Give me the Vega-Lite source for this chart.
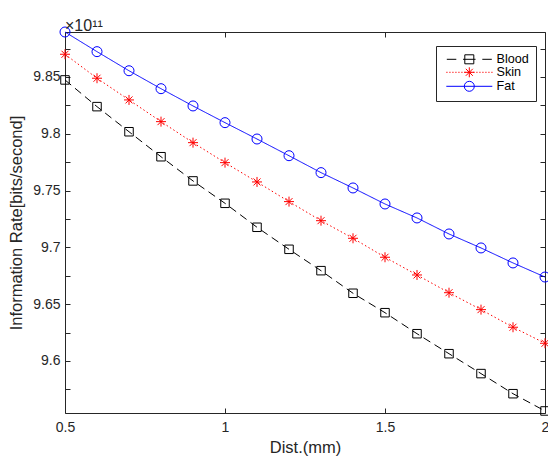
{
  "$schema": "https://vega.github.io/schema/vega-lite/v6.json",
  "width": 480,
  "height": 381,
  "autosize": {"type": "none"},
  "padding": {"left": 65, "top": 32, "right": 3, "bottom": 45},
  "background": "white",
  "title": {"text": "×10¹¹", "anchor": "start", "frame": "group", "offset": 2, "fontSize": 16, "fontWeight": "normal", "color": "#262626", "font": "Liberation Sans", "dy": 11},
  "config": {
    "view": {"stroke": null},
    "font": "Liberation Sans",
    "axis": {"grid": false, "domainColor": "#262626", "tickColor": "#262626", "labelColor": "#262626", "titleColor": "#262626", "labelFont": "Liberation Sans", "titleFont": "Liberation Sans", "labelFontSize": 14, "titleFontSize": 16.5, "titleFontWeight": "normal", "tickSize": -5, "domainWidth": 1, "tickWidth": 1}
  },
  "data": {"values": [
    {"x": 0.5, "series": "Blood", "y": 9.8474}, {"x": 0.6, "series": "Blood", "y": 9.8239}, {"x": 0.7, "series": "Blood", "y": 9.8018}, {"x": 0.8, "series": "Blood", "y": 9.7798},
    {"x": 0.9, "series": "Blood", "y": 9.7585}, {"x": 1.0, "series": "Blood", "y": 9.7388}, {"x": 1.1, "series": "Blood", "y": 9.7177}, {"x": 1.2, "series": "Blood", "y": 9.6983},
    {"x": 1.3, "series": "Blood", "y": 9.6795}, {"x": 1.4, "series": "Blood", "y": 9.6596}, {"x": 1.5, "series": "Blood", "y": 9.6425}, {"x": 1.6, "series": "Blood", "y": 9.6240},
    {"x": 1.7, "series": "Blood", "y": 9.6064}, {"x": 1.8, "series": "Blood", "y": 9.5889}, {"x": 1.9, "series": "Blood", "y": 9.5712}, {"x": 2.0, "series": "Blood", "y": 9.5560},
    {"x": 0.5, "series": "Skin", "y": 9.8700}, {"x": 0.6, "series": "Skin", "y": 9.8489}, {"x": 0.7, "series": "Skin", "y": 9.8298}, {"x": 0.8, "series": "Skin", "y": 9.8107},
    {"x": 0.9, "series": "Skin", "y": 9.7922}, {"x": 1.0, "series": "Skin", "y": 9.7746}, {"x": 1.1, "series": "Skin", "y": 9.7576}, {"x": 1.2, "series": "Skin", "y": 9.7403},
    {"x": 1.3, "series": "Skin", "y": 9.7235}, {"x": 1.4, "series": "Skin", "y": 9.7080}, {"x": 1.5, "series": "Skin", "y": 9.6913}, {"x": 1.6, "series": "Skin", "y": 9.6757},
    {"x": 1.7, "series": "Skin", "y": 9.6601}, {"x": 1.8, "series": "Skin", "y": 9.6452}, {"x": 1.9, "series": "Skin", "y": 9.6297}, {"x": 2.0, "series": "Skin", "y": 9.6156},
    {"x": 0.5, "series": "Fat", "y": 9.8896}, {"x": 0.6, "series": "Fat", "y": 9.8723}, {"x": 0.7, "series": "Fat", "y": 9.8555}, {"x": 0.8, "series": "Fat", "y": 9.8397},
    {"x": 0.9, "series": "Fat", "y": 9.8245}, {"x": 1.0, "series": "Fat", "y": 9.8098}, {"x": 1.1, "series": "Fat", "y": 9.7954}, {"x": 1.2, "series": "Fat", "y": 9.7807},
    {"x": 1.3, "series": "Fat", "y": 9.7658}, {"x": 1.4, "series": "Fat", "y": 9.7523}, {"x": 1.5, "series": "Fat", "y": 9.7382}, {"x": 1.6, "series": "Fat", "y": 9.7259},
    {"x": 1.7, "series": "Fat", "y": 9.7118}, {"x": 1.8, "series": "Fat", "y": 9.6995}, {"x": 1.9, "series": "Fat", "y": 9.6863}, {"x": 2.0, "series": "Fat", "y": 9.6739}
  ]},
  "resolve": {
    "scale": {"color": "independent", "shape": "independent", "strokeDash": "independent"},
    "axis": {"x": "independent", "y": "independent"}
  },
  "layer": [
    {
      "mark": {"type": "line", "strokeWidth": 1},
      "encoding": {
        "x": {"field": "x", "type": "quantitative", "scale": {"domain": [0.5, 2], "nice": false, "zero": false},
              "axis": {"orient": "bottom", "values": [0.5, 1, 1.5, 2], "format": ".1~f", "labelFlush": false, "labelPadding": 12, "title": "Dist.(mm)", "titlePadding": 5}},
        "y": {"field": "y", "type": "quantitative", "scale": {"domain": [9.5542, 9.8896], "nice": false, "zero": false},
              "axis": {"orient": "left", "values": [9.575, 9.6, 9.625, 9.65, 9.675, 9.7, 9.725, 9.75, 9.775, 9.8, 9.825, 9.85, 9.875],
                       "labelExpr": "abs(datum.value*20 - round(datum.value*20)) < 0.01 ? format(datum.value, '.2~f') : ''",
                       "labelPadding": 10, "title": "Information Rate[bits/second]", "titlePadding": 8}},
        "color": {"field": "series", "type": "nominal", "scale": {"domain": ["Blood", "Skin", "Fat"], "range": ["#000000", "#ff0000", "#0000ff"]}, "legend": null},
        "strokeDash": {"field": "series", "type": "nominal", "scale": {"domain": ["Blood", "Skin", "Fat"], "range": [[8, 5], [1.5, 2.5], [1, 0]]}, "legend": null}
      }
    },
    {
      "mark": {"type": "point", "filled": false, "strokeWidth": 1, "size": 100, "opacity": 1},
      "encoding": {
        "x": {"field": "x", "type": "quantitative", "axis": {"orient": "top", "values": [0.5, 1, 1.5, 2], "labels": false, "title": null}},
        "y": {"field": "y", "type": "quantitative", "axis": {"orient": "right", "values": [9.575, 9.6, 9.625, 9.65, 9.675, 9.7, 9.725, 9.75, 9.775, 9.8, 9.825, 9.85, 9.875], "labels": false, "title": null}},
        "color": {"field": "series", "type": "nominal", "scale": {"domain": ["Blood", "Skin", "Fat"], "range": ["#000000", "#ff0000", "#0000ff"]}, "legend": null},
        "shape": {"field": "series", "type": "nominal", "scale": {"domain": ["Blood", "Skin", "Fat"], "range": ["M-0.85,-0.85H0.85V0.85H-0.85Z", "M-1,0H1M0,-1V1M-0.7,-0.7L0.7,0.7M-0.7,0.7L0.7,-0.7", "circle"]}, "legend": null}
      }
    },
    {
      "mark": {"type": "point", "filled": false, "strokeWidth": 1, "size": 100, "opacity": 0},
      "encoding": {
        "x": {"field": "x", "type": "quantitative", "axis": null},
        "y": {"field": "y", "type": "quantitative", "axis": null},
        "color": {"field": "series", "type": "nominal", "scale": {"domain": ["Blood", "Skin", "Fat"], "range": ["#000000", "#ff0000", "#0000ff"]},
                  "legend": {"title": null, "orient": "none", "legendX": 371, "legendY": 14, "strokeColor": "#262626", "fillColor": "white", "padding": 7, "rowPadding": -1,
                             "labelFontSize": 12.6, "labelColor": "#000000", "labelFont": "Liberation Sans", "symbolSize": 100, "symbolOffset": 20, "labelOffset": 21, "symbolStrokeWidth": 1,
                             "encode": {"symbols": {"update": {"opacity": {"value": 1}}}}}},
        "shape": {"field": "series", "type": "nominal", "scale": {"domain": ["Blood", "Skin", "Fat"], "range": [
          "M-4.5,0H-2.6M-1.25,0H1.25M2.6,0H4.5M-0.9,-0.9H0.9V0.9H-0.9Z",
          "M-4.6,0h0.25M-4.0,0h0.25M-3.4,0h0.25M-2.8,0h0.25M-2.2,0h0.25M-1.6,0h0.25M-1.0,0h0.25M-0.4,0h0.25M0.2,0h0.25M0.8,0h0.25M1.4,0h0.25M2.0,0h0.25M2.6,0h0.25M3.2,0h0.25M3.8,0h0.25M4.4,0h0.25M-1,0H1M0,-1V1M-0.7,-0.7L0.7,0.7M-0.7,0.7L0.7,-0.7",
          "M-4.6,0H4.6M1,0A1,1 0 1,1 -1,0A1,1 0 1,1 1,0"]},
                  "legend": {"title": null}}
      }
    }
  ]
}
